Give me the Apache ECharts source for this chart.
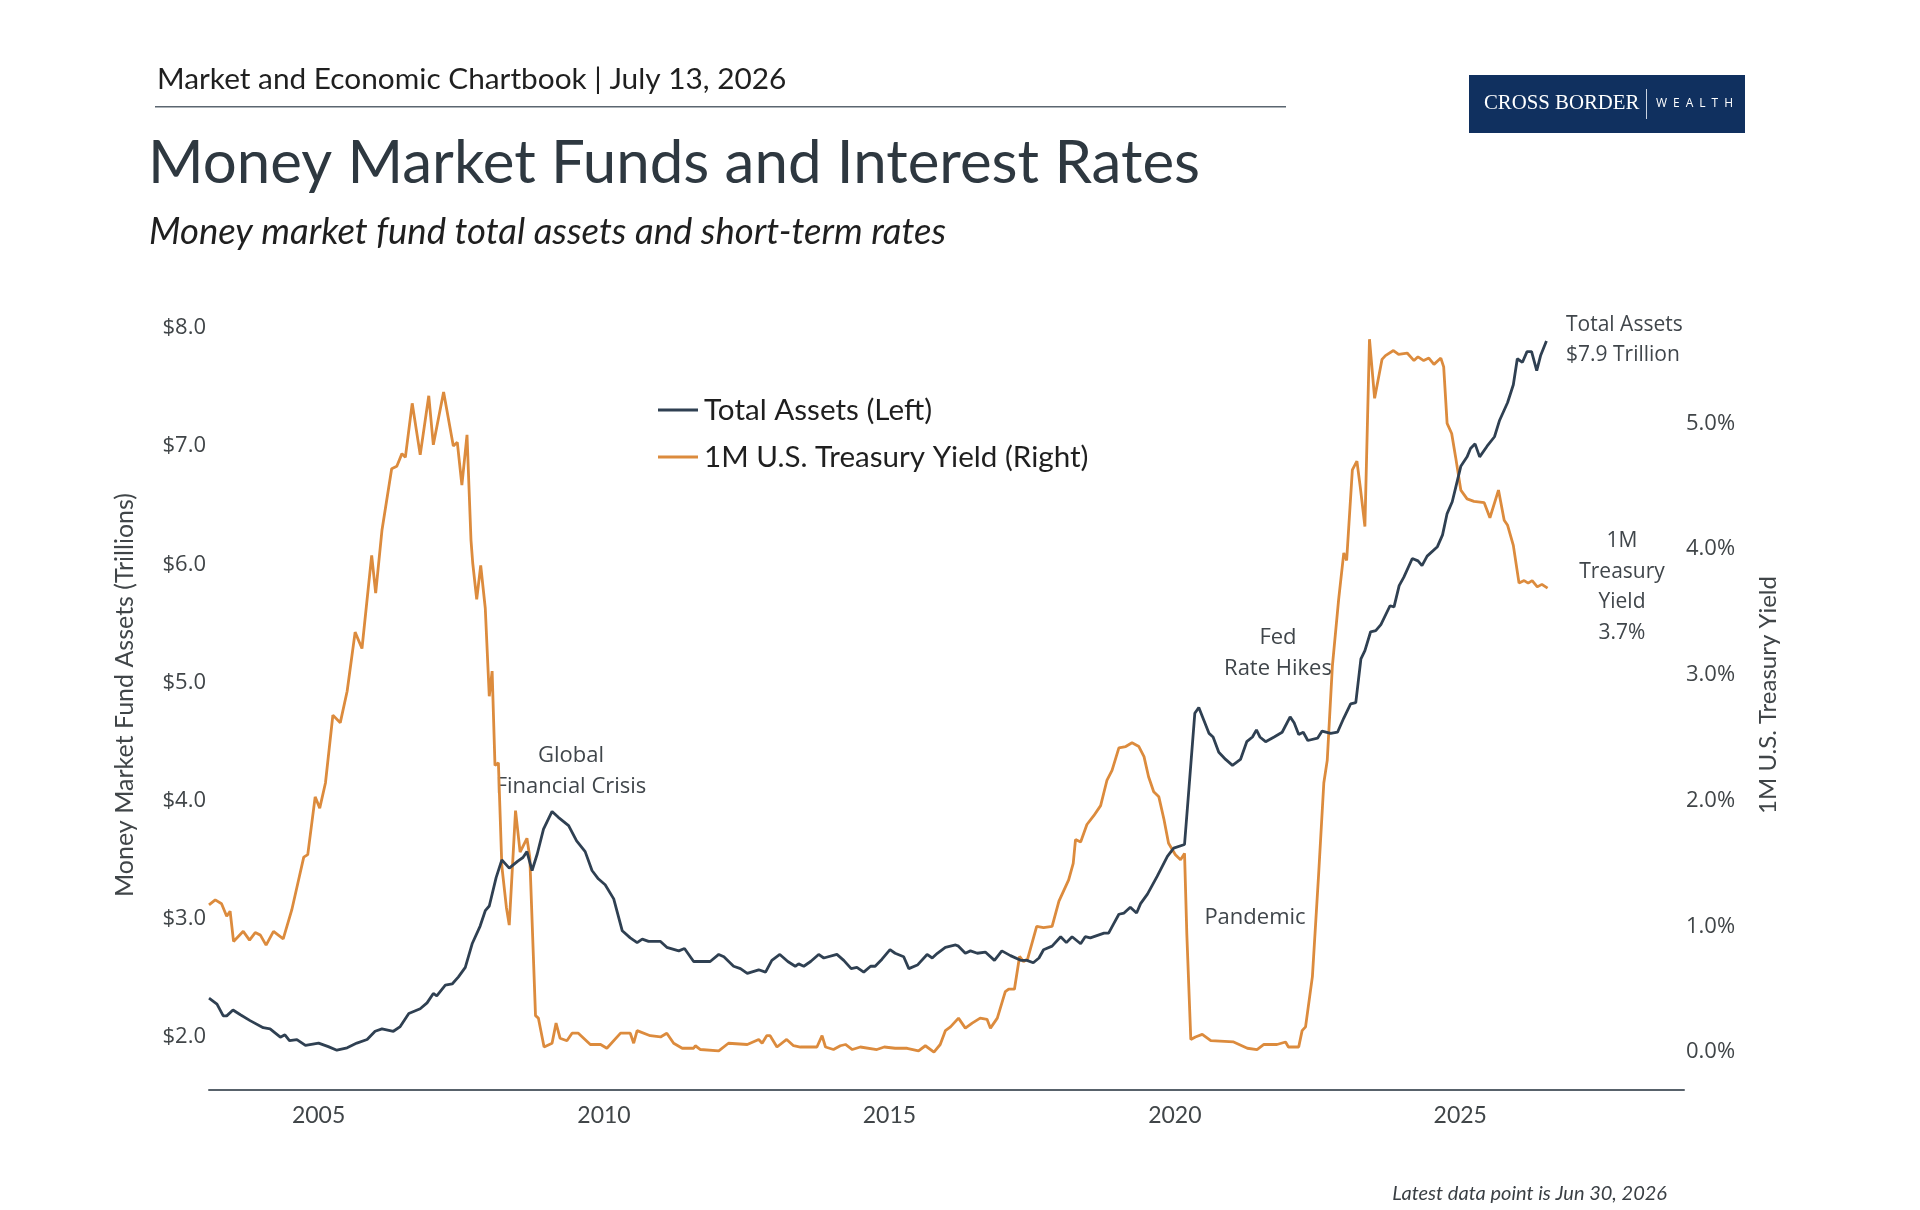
<!DOCTYPE html>
<html>
<head>
<meta charset="utf-8">
<title>Money Market Funds and Interest Rates</title>
<script src="https://cdn.jsdelivr.net/npm/echarts@6/dist/echarts.min.js"></script>
<style>
  html, body { margin: 0; padding: 0; background: #fff; }
  #chart { width: 1920px; height: 1210px; }
</style>
</head>
<body>
<div id="chart"></div>
<script>
// dates as decimal years
const assetDates = [
  2003.08, 2003.22, 2003.33, 2003.39, 2003.50, 2003.63, 2003.80, 2004.03, 2004.15, 2004.33,
  2004.41, 2004.49, 2004.62, 2004.77, 2005.00, 2005.17, 2005.32, 2005.50, 2005.67, 2005.85,
  2005.99, 2006.11, 2006.31, 2006.43, 2006.58, 2006.78, 2006.90, 2007.01, 2007.07, 2007.22,
  2007.34, 2007.45, 2007.57, 2007.69, 2007.83, 2007.92, 2007.99, 2008.11, 2008.21, 2008.34,
  2008.49, 2008.58, 2008.65, 2008.74, 2008.83, 2008.94, 2009.09, 2009.20, 2009.38, 2009.52,
  2009.67, 2009.79, 2009.90, 2010.02, 2010.17, 2010.32, 2010.46, 2010.58, 2010.67, 2010.78,
  2010.99, 2011.10, 2011.31, 2011.41, 2011.57, 2011.86, 2012.01, 2012.10, 2012.27, 2012.39,
  2012.51, 2012.71, 2012.83, 2012.94, 2013.08, 2013.22, 2013.35, 2013.41, 2013.50, 2013.62,
  2013.76, 2013.85, 2014.08, 2014.20, 2014.33, 2014.43, 2014.55, 2014.67, 2014.75, 2014.87,
  2015.01, 2015.10, 2015.25, 2015.34, 2015.49, 2015.66, 2015.75, 2015.84, 2015.98, 2016.16,
  2016.21, 2016.33, 2016.42, 2016.54, 2016.68, 2016.84, 2016.97, 2017.12, 2017.30, 2017.41,
  2017.52, 2017.62, 2017.70, 2017.85, 2018.00, 2018.10, 2018.20, 2018.35, 2018.43, 2018.52,
  2018.76, 2018.84, 2018.93, 2019.02, 2019.11, 2019.22, 2019.33, 2019.40, 2019.52, 2019.69,
  2019.87, 2019.98, 2020.17, 2020.25, 2020.35, 2020.42, 2020.51, 2020.60, 2020.67, 2020.77,
  2020.89, 2021.01, 2021.15, 2021.26, 2021.36, 2021.43, 2021.49, 2021.59, 2021.74, 2021.88,
  2022.02, 2022.09, 2022.17, 2022.25, 2022.33, 2022.50, 2022.58, 2022.73, 2022.85, 2022.96,
  2023.08, 2023.17, 2023.26, 2023.33, 2023.43, 2023.52, 2023.61, 2023.77, 2023.84, 2023.93,
  2024.01, 2024.16, 2024.26, 2024.33, 2024.42, 2024.60, 2024.69, 2024.77, 2024.86, 2024.92,
  2025.01, 2025.12, 2025.18, 2025.26, 2025.34, 2025.47, 2025.60, 2025.69, 2025.83, 2025.93,
  2026.00, 2026.09, 2026.17, 2026.25, 2026.34, 2026.41, 2026.51
]
const assetValues = [
  2.33, 2.28, 2.18, 2.18, 2.23, 2.19, 2.14, 2.08, 2.07, 2.00,
  2.02, 1.97, 1.98, 1.93, 1.95, 1.92, 1.89, 1.91, 1.95, 1.98,
  2.05, 2.07, 2.05, 2.09, 2.20, 2.24, 2.29, 2.37, 2.35, 2.44,
  2.45, 2.51, 2.59, 2.79, 2.94, 3.07, 3.11, 3.35, 3.50, 3.43,
  3.49, 3.52, 3.57, 3.41, 3.55, 3.76, 3.91, 3.86, 3.79, 3.66,
  3.57, 3.41, 3.34, 3.29, 3.17, 2.90, 2.84, 2.80, 2.83, 2.81,
  2.81, 2.76, 2.73, 2.75, 2.64, 2.64, 2.70, 2.68, 2.60, 2.58,
  2.54, 2.57, 2.55, 2.65, 2.70, 2.64, 2.60, 2.62, 2.60, 2.64,
  2.70, 2.67, 2.70, 2.65, 2.58, 2.59, 2.55, 2.60, 2.60, 2.66,
  2.74, 2.71, 2.68, 2.58, 2.61, 2.70, 2.67, 2.71, 2.76, 2.78,
  2.77, 2.71, 2.73, 2.71, 2.72, 2.65, 2.73, 2.69, 2.65, 2.65,
  2.63, 2.67, 2.74, 2.77, 2.85, 2.80, 2.85, 2.79, 2.85, 2.84,
  2.88, 2.88, 2.96, 3.04, 3.05, 3.10, 3.05, 3.13, 3.21, 3.36,
  3.53, 3.60, 3.63, 4.12, 4.74, 4.79, 4.68, 4.57, 4.54, 4.41,
  4.35, 4.30, 4.35, 4.50, 4.54, 4.60, 4.54, 4.50, 4.54, 4.58,
  4.71, 4.66, 4.56, 4.58, 4.51, 4.53, 4.59, 4.57, 4.58, 4.70,
  4.82, 4.83, 5.20, 5.27, 5.43, 5.44, 5.49, 5.65, 5.64, 5.82,
  5.89, 6.05, 6.03, 5.99, 6.07, 6.15, 6.25, 6.43, 6.53, 6.65,
  6.83, 6.91, 6.98, 7.02, 6.91, 7.00, 7.08, 7.22, 7.37, 7.52,
  7.74, 7.71, 7.80, 7.80, 7.64, 7.77, 7.89
]

const yieldDates = [
  2003.08, 2003.19, 2003.30, 2003.39, 2003.45, 2003.51, 2003.68, 2003.79, 2003.89, 2003.98,
  2004.08, 2004.21, 2004.38, 2004.53, 2004.65, 2004.74, 2004.81, 2004.94, 2005.02, 2005.12,
  2005.25, 2005.38, 2005.50, 2005.64, 2005.76, 2005.93, 2006.00, 2006.11, 2006.28, 2006.37,
  2006.46, 2006.52, 2006.64, 2006.78, 2006.93, 2007.01, 2007.19, 2007.36, 2007.43, 2007.51,
  2007.60, 2007.67, 2007.70, 2007.77, 2007.84, 2007.92, 2007.99, 2008.04, 2008.09, 2008.15,
  2008.21, 2008.29, 2008.34, 2008.45, 2008.53, 2008.65, 2008.70, 2008.80, 2008.85, 2008.95,
  2009.09, 2009.16, 2009.23, 2009.35, 2009.44, 2009.55, 2009.76, 2009.94, 2010.05, 2010.29,
  2010.46, 2010.52, 2010.58, 2010.81, 2010.99, 2011.10, 2011.22, 2011.37, 2011.57, 2011.60,
  2011.69, 2012.01, 2012.18, 2012.51, 2012.71, 2012.77, 2012.85, 2012.91, 2013.03, 2013.20,
  2013.32, 2013.44, 2013.73, 2013.82, 2013.88, 2014.02, 2014.14, 2014.23, 2014.35, 2014.49,
  2014.78, 2014.91, 2015.10, 2015.31, 2015.51, 2015.63, 2015.78, 2015.89, 2015.98, 2016.07,
  2016.21, 2016.33, 2016.45, 2016.59, 2016.71, 2016.77, 2016.89, 2017.03, 2017.09, 2017.19,
  2017.28, 2017.35, 2017.42, 2017.58, 2017.70, 2017.85, 2017.97, 2018.14, 2018.22, 2018.26,
  2018.35, 2018.46, 2018.58, 2018.70, 2018.81, 2018.90, 2019.02, 2019.14, 2019.25, 2019.37,
  2019.46, 2019.54, 2019.63, 2019.72, 2019.81, 2019.89, 2020.01, 2020.10, 2020.17, 2020.21,
  2020.28, 2020.36, 2020.48, 2020.63, 2021.03, 2021.27, 2021.44, 2021.56, 2021.79, 2021.94,
  2021.99, 2022.17, 2022.23, 2022.29, 2022.41, 2022.52, 2022.61, 2022.67, 2022.76, 2022.87,
  2022.96, 2023.01, 2023.11, 2023.19, 2023.25, 2023.33, 2023.41, 2023.50, 2023.63, 2023.69,
  2023.83, 2023.92, 2024.07, 2024.19, 2024.26, 2024.36, 2024.45, 2024.54, 2024.66, 2024.71,
  2024.77, 2024.85, 2024.92, 2025.01, 2025.12, 2025.24, 2025.42, 2025.52, 2025.67, 2025.77,
  2025.83, 2025.93, 2026.03, 2026.12, 2026.19, 2026.26, 2026.35, 2026.43, 2026.53
]
const yieldValues = [
  1.17, 1.21, 1.18, 1.08, 1.12, 0.88, 0.96, 0.89, 0.95, 0.93,
  0.85, 0.96, 0.90, 1.13, 1.37, 1.55, 1.57, 2.03, 1.94, 2.14,
  2.68, 2.62, 2.87, 3.34, 3.21, 3.95, 3.65, 4.15, 4.64, 4.66,
  4.76, 4.73, 5.16, 4.75, 5.22, 4.83, 5.25, 4.82, 4.85, 4.51,
  4.91, 4.07, 3.89, 3.60, 3.87, 3.53, 2.83, 3.03, 2.28, 2.30,
  1.48, 1.15, 1.01, 1.92, 1.59, 1.70, 1.55, 0.29, 0.27, 0.04,
  0.07, 0.23, 0.11, 0.09, 0.15, 0.15, 0.06, 0.06, 0.03, 0.15,
  0.15, 0.07, 0.17, 0.13, 0.12, 0.15, 0.07, 0.03, 0.03, 0.05,
  0.02, 0.01, 0.07, 0.06, 0.10, 0.07, 0.13, 0.13, 0.04, 0.10,
  0.05, 0.04, 0.04, 0.13, 0.04, 0.02, 0.05, 0.06, 0.02, 0.04,
  0.02, 0.04, 0.03, 0.03, 0.01, 0.05, 0.00, 0.06, 0.17, 0.20,
  0.27, 0.19, 0.23, 0.27, 0.26, 0.19, 0.27, 0.48, 0.50, 0.50,
  0.76, 0.72, 0.74, 1.00, 0.99, 1.00, 1.20, 1.37, 1.50, 1.69,
  1.67, 1.81, 1.88, 1.96, 2.16, 2.24, 2.42, 2.43, 2.46, 2.43,
  2.35, 2.19, 2.07, 2.03, 1.85, 1.66, 1.57, 1.53, 1.58, 0.94,
  0.10, 0.12, 0.14, 0.09, 0.08, 0.03, 0.02, 0.06, 0.06, 0.08,
  0.04, 0.04, 0.17, 0.20, 0.60, 1.42, 2.14, 2.32, 3.07, 3.60,
  3.97, 3.91, 4.63, 4.70, 4.49, 4.18, 5.67, 5.20, 5.51, 5.54,
  5.58, 5.55, 5.56, 5.50, 5.53, 5.50, 5.52, 5.47, 5.52, 5.45,
  5.00, 4.92, 4.73, 4.47, 4.40, 4.38, 4.37, 4.25, 4.47, 4.23,
  4.19, 4.03, 3.73, 3.75, 3.73, 3.75, 3.70, 3.72, 3.69
]

const yearTicks = [2005, 2010, 2015, 2020, 2025]
const assetTicks = [2, 3, 4, 5, 6, 7, 8]
const yieldTicks = [0, 1, 2, 3, 4, 5]

const NAVY = '#2f4052'
const ORANGE = '#dc8b3d'
const LABEL = '#404548'
const SANS = 'Lato, "Noto Sans", sans-serif'
const ROUND = '"Open Sans", "Noto Sans", sans-serif'

const chart = echarts.init(document.getElementById('chart'), null, { renderer: 'canvas' })

chart.setOption({
  backgroundColor: '#ffffff',
  animation: false,
  grid: {
    left: 209,
    right: 236,
    top: 300,
    bottom: 120,
  },
  legend: {
    orient: 'vertical',
    left: 653,
    top: 390,
    icon: 'rect',
    itemWidth: 40,
    itemHeight: 3,
    itemGap: 17,
    textStyle: {
      color: '#1f1f1f',
      fontFamily: SANS,
      fontSize: 29.6,
      padding: [0, 0, 0, 1],
    },
    data: ['Total Assets (Left)', '1M U.S. Treasury Yield (Right)'],
  },
  xAxis: {
    type: 'value',
    min: 2003.08,
    max: 2028.92,
    axisLine: { onZero: false, lineStyle: { color: '#58626b', width: 2 } },
    axisTick: { show: false },
    splitLine: { show: false },
    axisLabel: {
      customValues: yearTicks,
      margin: 14,
      color: LABEL,
      fontFamily: SANS,
      fontSize: 23,
      formatter: v => String(v),
    },
  },
  yAxis: [{
    type: 'value',
    position: 'left',
    min: 1.553,
    max: 8.237,
    axisLine: { show: false },
    axisTick: { show: false },
    splitLine: { show: false },
    axisLabel: {
      customValues: assetTicks,
      margin: 3,
      color: LABEL,
      fontFamily: ROUND,
      fontSize: 22,
      formatter: v => '$' + v.toFixed(1),
    },
    name: 'Money Market Fund Assets (Trillions)',
    nameLocation: 'middle',
    nameRotate: 90,
    nameGap: 72,
    nameTextStyle: { color: LABEL, fontFamily: SANS, fontSize: 25 },
  }, {
    type: 'value',
    position: 'right',
    min: -0.302,
    max: 5.982,
    axisLine: { show: false },
    axisTick: { show: false },
    splitLine: { show: false },
    axisLabel: {
      customValues: yieldTicks,
      margin: 2,
      color: LABEL,
      fontFamily: ROUND,
      fontSize: 22,
      formatter: v => v.toFixed(1) + '%',
    },
    name: '1M U.S. Treasury Yield',
    nameLocation: 'middle',
    nameRotate: 90,
    nameGap: 72,
    nameTextStyle: { color: LABEL, fontFamily: SANS, fontSize: 24 },
  }],
  series: [{
    name: 'Total Assets (Left)',
    type: 'line',
    yAxisIndex: 0,
    showSymbol: false,
    lineStyle: { color: NAVY, width: 2.8 },
    itemStyle: { color: NAVY },
    data: assetDates.map((d, i) => [d, assetValues[i]]),
    z: 3,
  }, {
    name: '1M U.S. Treasury Yield (Right)',
    type: 'line',
    yAxisIndex: 1,
    showSymbol: false,
    lineStyle: { color: ORANGE, width: 2.8 },
    itemStyle: { color: ORANGE },
    data: yieldDates.map((d, i) => [d, yieldValues[i]]),
    z: 2,
  }],
  graphic: [
    // header
    { type: 'text', left: 157, top: 64, style: { text: 'Market and Economic Chartbook | July 13, 2026', fill: '#1f1f1f', font: '29.8px ' + SANS } },
    { type: 'rect', shape: { x: 155, y: 106, width: 1131, height: 1.5 }, style: { fill: '#5b6670' } },
    { type: 'text', left: 148, top: 134, style: { text: 'Money Market Funds and Interest Rates', fill: '#2e3840', font: '60px ' + SANS } },
    { type: 'text', left: 149, top: 214, style: { text: 'Money market fund total assets and short-term rates', fill: '#1f1f1f', font: 'italic 36.5px ' + SANS } },
    // logo
    { type: 'rect', shape: { x: 1469, y: 75, width: 276, height: 58 }, style: { fill: '#10305f' } },
    { type: 'text', x: 1484, y: 104, style: { text: 'CROSS BORDER', fill: '#ffffff', font: '20.8px "Liberation Serif", "DejaVu Serif", serif', textVerticalAlign: 'middle' } },
    { type: 'rect', shape: { x: 1646, y: 89, width: 1, height: 30 }, style: { fill: '#c9d2e0' } },
    { type: 'text', x: 1656, y: 104, style: { text: 'W\u2002E\u2002A\u2002L\u2002T\u2002H', fill: '#ffffff', font: '12px ' + ROUND, textVerticalAlign: 'middle' } },
    // annotations
    { type: 'text', x: 571, y: 771, style: { text: 'Global\nFinancial Crisis', fill: '#40464b', font: '22px ' + ROUND, textAlign: 'center', textVerticalAlign: 'middle', lineHeight: 31 } },
    { type: 'text', x: 1278, y: 653, style: { text: 'Fed\nRate Hikes', fill: '#40464b', font: '22px ' + ROUND, textAlign: 'center', textVerticalAlign: 'middle', lineHeight: 31 } },
    { type: 'text', x: 1255, y: 918, style: { text: 'Pandemic', fill: '#40464b', font: '22px ' + ROUND, textAlign: 'center', textVerticalAlign: 'middle' } },
    { type: 'text', x: 1566, y: 340, style: { text: 'Total Assets\n$7.9 Trillion', fill: '#40464b', font: '21px ' + ROUND, textAlign: 'left', textVerticalAlign: 'middle', lineHeight: 30 } },
    { type: 'text', x: 1622, y: 587, style: { text: '1M\nTreasury\nYield\n3.7%', fill: '#40464b', font: '21px ' + ROUND, textAlign: 'center', textVerticalAlign: 'middle', lineHeight: 30.5 } },
    // footnote
    { type: 'text', x: 1667, y: 1194, style: { text: 'Latest data point is Jun 30, 2026', fill: '#3a3f44', font: 'italic 20px ' + SANS, textAlign: 'right', textVerticalAlign: 'middle' } },
  ],
})
</script>
</body>
</html>
